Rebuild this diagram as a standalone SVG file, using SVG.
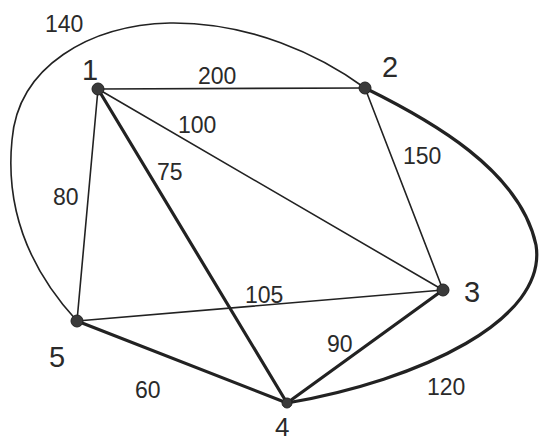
<svg xmlns="http://www.w3.org/2000/svg" width="539" height="442" viewBox="0 0 539 442">
<style>
.e{fill:none;stroke:#222;stroke-width:1.6;stroke-linecap:round}
.t{stroke-width:3.2}
.n{fill:#3a3a3a;stroke:#222;stroke-width:1}
.l{font-family:"Liberation Sans",Arial,sans-serif;font-size:23px;fill:#2a2a2a}
.nl{font-family:"Liberation Sans",Arial,sans-serif;font-size:29px;fill:#2a2a2a}
</style>
<rect width="539" height="442" fill="#fff"/>
<g id="connectors">
<line class="e" x1="98" y1="89" x2="365" y2="88"/>
<line class="e" x1="98" y1="89" x2="443" y2="290"/>
<line class="e t" x1="98" y1="89" x2="287" y2="403"/>
<line class="e" x1="98" y1="89" x2="77" y2="321"/>
<line class="e" x1="365" y1="88" x2="443" y2="290"/>
<line class="e" x1="443" y1="290" x2="77" y2="321"/>
<line class="e t" x1="443" y1="290" x2="287" y2="403"/>
<line class="e t" x1="77" y1="321" x2="287" y2="403"/>
<path class="e t" d="M365,88 C430,120 520,170 536,245 C548,320 420,380 287,403"/>
<path class="e" d="M77,321 C30,270 5,210 12,140 C18,66 90,25 170,23 C250,22 320,55 365,88"/>
</g>
<g id="edge-labels">
<text class="l" x="45" y="32">140</text>
<text class="l" x="198" y="84">200</text>
<text class="l" x="178" y="133">100</text>
<text class="l" x="157" y="180">75</text>
<text class="l" x="53" y="205">80</text>
<text class="l" x="403" y="164">150</text>
<text class="l" x="245" y="303">105</text>
<text class="l" x="327" y="352">90</text>
<text class="l" x="427" y="395">120</text>
<text class="l" x="135" y="398">60</text>
</g>
<g id="node1"><circle class="n" cx="98" cy="89" r="6"/><text class="nl" x="82" y="80">1</text></g>
<g id="node2"><circle class="n" cx="365" cy="88" r="6"/><text class="nl" x="382" y="77">2</text></g>
<g id="node3"><circle class="n" cx="443" cy="290" r="6"/><text class="nl" x="464" y="302">3</text></g>
<g id="node4"><circle class="n" cx="287" cy="403" r="5"/><text class="nl" x="275" y="436" style="font-size:26px">4</text></g>
<g id="node5"><circle class="n" cx="77" cy="321" r="6"/><text class="nl" x="49" y="367">5</text></g>
</svg>
